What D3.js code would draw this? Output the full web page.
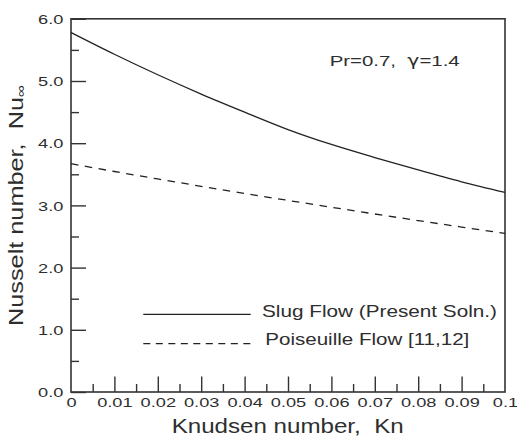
<!DOCTYPE html>
<html>
<head>
<meta charset="utf-8">
<script src="https://cdn.jsdelivr.net/npm/d3@7"></script>
<style>
  html, body { margin: 0; padding: 0; background: #fff; }
  text { font-family: "Liberation Sans", Arial, Helvetica, sans-serif; fill: #2e2e2e; }
</style>
</head>
<body>
<svg id="chart" width="517" height="446"></svg>
<script>
// Knudsen number samples and the fully developed Nusselt number for each flow model
const knudsen = [0, 0.01, 0.02, 0.03, 0.04, 0.05, 0.06, 0.07, 0.08, 0.09, 0.1];
const slugFlow = [5.78, 5.43, 5.10, 4.79, 4.50, 4.22, 3.98, 3.77, 3.57, 3.38, 3.21];
const poiseuilleFlow = [3.67, 3.545, 3.425, 3.307, 3.192, 3.08, 2.97, 2.862, 2.756, 2.652, 2.55];

const seriesNames = ["Slug Flow (Present Soln.)", "Poiseuille Flow [11,12]"];

const xTickValues = [0, 0.01, 0.02, 0.03, 0.04, 0.05, 0.06, 0.07, 0.08, 0.09, 0.1];
const xTickLabels = ["0", "0.01", "0.02", "0.03", "0.04", "0.05", "0.06", "0.07", "0.08", "0.09", "0.1"];
const xMinorTicks = [0.005, 0.015, 0.025, 0.035, 0.045, 0.055, 0.065, 0.075, 0.085, 0.095];
const yTickValues = [0, 1, 2, 3, 4, 5, 6];
const yTickLabels = ["0.0", "1.0", "2.0", "3.0", "4.0", "5.0", "6.0"];
const yMinorTicks = [0.5, 1.5, 2.5, 3.5, 4.5, 5.5];

const xTitle = "Knudsen number,  Kn";
const yTitle = "Nusselt number,  Nu";
const yTitleSub = "\u221E";
const annotationParts = ["Pr=0.7,  ", "\u03B3", "=1.4"];

const svg = d3.select("#chart");
const plot = { left: 71, right: 505, top: 18.8, bottom: 392 };

const x = d3.scaleLinear().domain([0, 0.1]).range([plot.left, plot.right]);
const y = d3.scaleLinear().domain([0, 6]).range([plot.bottom, plot.top]);

const axisColor = "#333";
const labelStretch = 1.4;

function fitWidth(sel, w) {
  sel.attr("textLength", w).attr("lengthAdjust", "spacingAndGlyphs");
}

// Minor ticks, pointing into the plot
svg.append("g")
  .attr("transform", `translate(0,${plot.bottom})`)
  .call(d3.axisBottom(x).tickValues(xMinorTicks).tickSize(-8).tickSizeOuter(0).tickFormat(""))
  .call(g => g.select(".domain").remove())
  .call(g => g.selectAll("line").attr("stroke", axisColor).attr("stroke-width", 1.4));

svg.append("g")
  .attr("transform", `translate(${plot.left},0)`)
  .call(d3.axisLeft(y).tickValues(yMinorTicks).tickSize(-8).tickSizeOuter(0).tickFormat(""))
  .call(g => g.select(".domain").remove())
  .call(g => g.selectAll("line").attr("stroke", axisColor).attr("stroke-width", 1.4));

// Major ticks with labels
const xAxis = svg.append("g")
  .attr("transform", `translate(0,${plot.bottom})`)
  .call(d3.axisBottom(x).tickValues(xTickValues).tickSize(-15.5).tickSizeOuter(0)
    .tickFormat((d, i) => xTickLabels[i]));
xAxis.select(".domain").remove();
xAxis.selectAll("line").attr("stroke", axisColor).attr("stroke-width", 1.4);
xAxis.selectAll(".tick").filter(d => d === 0 || d === 0.1).select("line").remove();
xAxis.selectAll("text")
  .attr("x", 0).attr("y", 15.3).attr("dy", 0)
  .attr("font-size", 13).attr("font-family", null)
  .attr("transform", `scale(${labelStretch},1)`);

const yAxis = svg.append("g")
  .attr("transform", `translate(${plot.left},0)`)
  .call(d3.axisLeft(y).tickValues(yTickValues).tickSize(-15).tickSizeOuter(0)
    .tickFormat((d, i) => yTickLabels[i]));
yAxis.select(".domain").remove();
yAxis.selectAll("line").attr("stroke", axisColor).attr("stroke-width", 1.4);
yAxis.selectAll("text")
  .attr("x", -7.7 / labelStretch).attr("dy", "0.36em")
  .attr("font-size", 13).attr("font-family", null)
  .attr("transform", `scale(${labelStretch},1)`);

// Plot frame
svg.append("rect")
  .attr("x", plot.left).attr("y", plot.top)
  .attr("width", plot.right - plot.left).attr("height", plot.bottom - plot.top)
  .attr("fill", "none").attr("stroke", axisColor).attr("stroke-width", 1.6);

// Curves
const line = d3.line().curve(d3.curveMonotoneX);
const slugPts = knudsen.map((k, i) => [x(k), y(slugFlow[i])]);
const poisPts = knudsen.map((k, i) => [x(k), y(poiseuilleFlow[i])]);

svg.append("path").attr("d", line(slugPts))
  .attr("fill", "none").attr("stroke", "#222").attr("stroke-width", 1.3);
svg.append("path").attr("d", line(poisPts))
  .attr("fill", "none").attr("stroke", "#222").attr("stroke-width", 1.3)
  .attr("stroke-dasharray", "7.5,6.5");

// Legend
const legend = [
  { name: seriesNames[0], dash: null, ly: 314.3, ty: 317.3, tx: 262, w: 235 },
  { name: seriesNames[1], dash: "7,5.5", ly: 343.7, ty: 345, tx: 265.3, w: 204 }
];
legend.forEach(e => {
  svg.append("line")
    .attr("x1", 143.3).attr("x2", 250.7).attr("y1", e.ly).attr("y2", e.ly)
    .attr("stroke", "#222").attr("stroke-width", 1.3)
    .attr("stroke-dasharray", e.dash);
  svg.append("text")
    .attr("x", e.tx).attr("y", e.ty)
    .attr("font-size", 17)
    .style("white-space", "pre")
    .text(e.name)
    .call(fitWidth, e.w);
});

// Parameter annotation (Greek gamma set in DejaVu Sans)
const ann = svg.append("text")
  .attr("x", 329.7).attr("y", 66)
  .attr("font-size", 15.4)
  .style("white-space", "pre");
ann.selectAll("tspan").data(annotationParts).join("tspan")
  .style("font-family", (d, i) => i === 1 ? "'DejaVu Sans', sans-serif" : null)
  .text(d => d);
ann.call(fitWidth, 130);

// Axis titles
svg.append("text")
  .attr("x", 287.7).attr("y", 433.3)
  .attr("text-anchor", "middle")
  .attr("font-size", 19.5)
  .style("white-space", "pre")
  .text(xTitle)
  .call(fitWidth, 232);

const yt = svg.append("text")
  .attr("transform", "translate(23.3,205.5) rotate(-90)")
  .attr("text-anchor", "middle")
  .attr("font-size", 19.5)
  .style("white-space", "pre");
yt.append("tspan").text(yTitle);
yt.append("tspan").attr("font-size", 13).attr("dy", 2).text(yTitleSub);
yt.call(fitWidth, 241);
</script>
</body>
</html>
